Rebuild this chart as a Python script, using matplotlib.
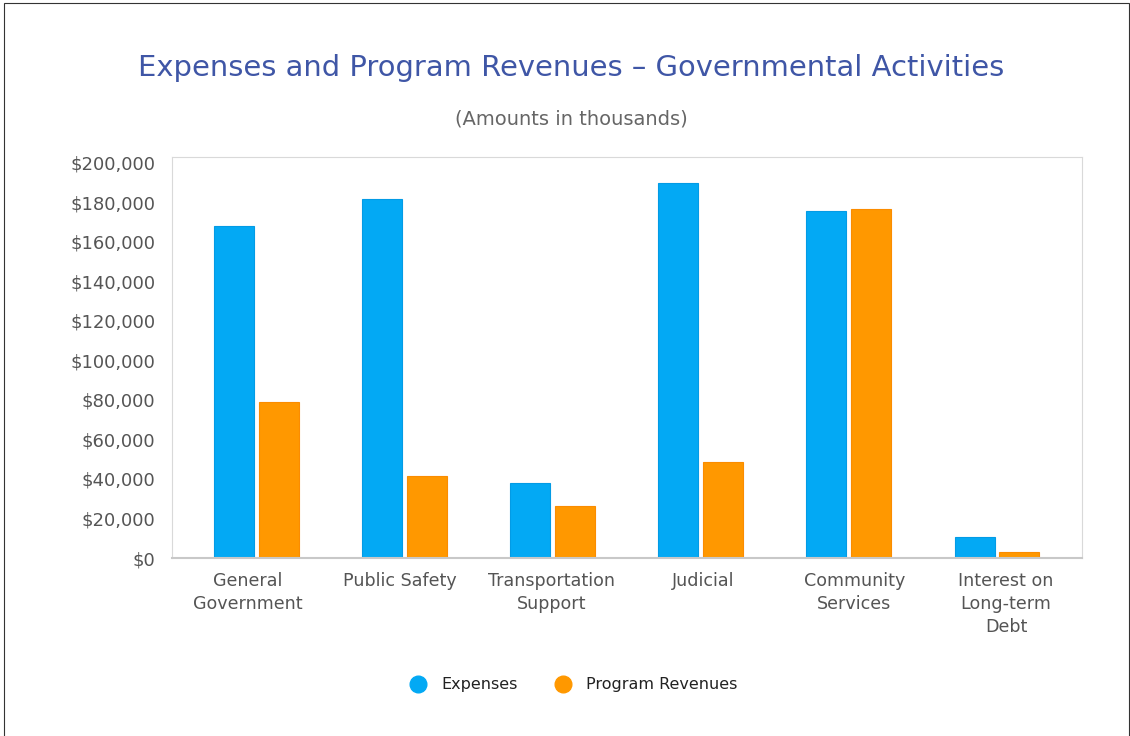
import numpy as np
import matplotlib.pyplot as plt
from matplotlib.lines import Line2D
from matplotlib.patches import Rectangle
from matplotlib.ticker import FuncFormatter

plt.rcParams["font.family"] = ["DejaVu Sans"]

categories = ["General\nGovernment", "Public Safety", "Transportation\nSupport",
              "Judicial", "Community\nServices", "Interest on\nLong-term\nDebt"]
expenses = [168100, 181600, 38000, 190000, 175900, 10500]
program_revenues = [79000, 41500, 26300, 48400, 176700, 3200]

blue = "#03a9f4"
orange = "#ff9800"

fig = plt.figure(figsize=(11.3, 7.36), dpi=100)
ax = fig.add_axes([172 / 1130, 1 - 558 / 736, 910 / 1130, 401 / 736])

x = np.arange(len(categories))
# bars sit a little off the label centres (the original has a slight perspective look)
grp = 0.057 + 0.9765 * x
w = 0.264
ax.bar(grp - w / 2 - 0.016, expenses, w, color=blue, edgecolor="#039be5", linewidth=0.8)
ax.bar(grp + w / 2 + 0.016, program_revenues, w, color=orange, edgecolor="#fb8c00", linewidth=0.8)

ax.set_xlim(-0.5, len(categories) - 0.5)
ax.set_ylim(0, 203000)
ax.set_yticks(range(0, 200001, 20000))
ax.yaxis.set_major_formatter(FuncFormatter(lambda v, p: f"${v:,.0f}"))
ax.set_xticks(x)
ax.set_xticklabels(categories, linespacing=1.35)
ax.tick_params(axis="y", length=0, labelsize=13, colors="#555555", pad=12)
ax.tick_params(axis="x", length=0, labelsize=12.6, colors="#555555", pad=10)

for side in ["top", "right", "left"]:
    ax.spines[side].set_color("#d9d9d9")
ax.spines["bottom"].set_color("#c8c8c8")
ax.spines["bottom"].set_linewidth(1.5)

fig.text(571 / 1130, 1 - 68 / 736, "Expenses and Program Revenues \u2013 Governmental Activities",
         ha="center", va="center", fontsize=20.9, color="#3f56a6")
fig.text(571 / 1130, 1 - 119 / 736, "(Amounts in thousands)",
         ha="center", va="center", fontsize=14, color="#666666")

# legend
fig.add_artist(Line2D([418 / 1130], [1 - 684 / 736], marker="o", ms=12, color=blue,
                      linestyle="none", transform=fig.transFigure))
fig.text(441 / 1130, 1 - 684 / 736, "Expenses", ha="left", va="center", fontsize=11.5, color="#222222")
fig.add_artist(Line2D([563 / 1130], [1 - 684 / 736], marker="o", ms=12, color=orange,
                      linestyle="none", transform=fig.transFigure))
fig.text(586 / 1130, 1 - 684 / 736, "Program Revenues", ha="left", va="center", fontsize=11.5, color="#222222")

fig.patches.append(Rectangle((4 / 1130, -0.01), 1125 / 1130, 1 - 3 / 736 + 0.01, transform=fig.transFigure,
                             fill=False, edgecolor="#333333", linewidth=0.8, figure=fig))

fig.savefig("out.png", dpi=100)
